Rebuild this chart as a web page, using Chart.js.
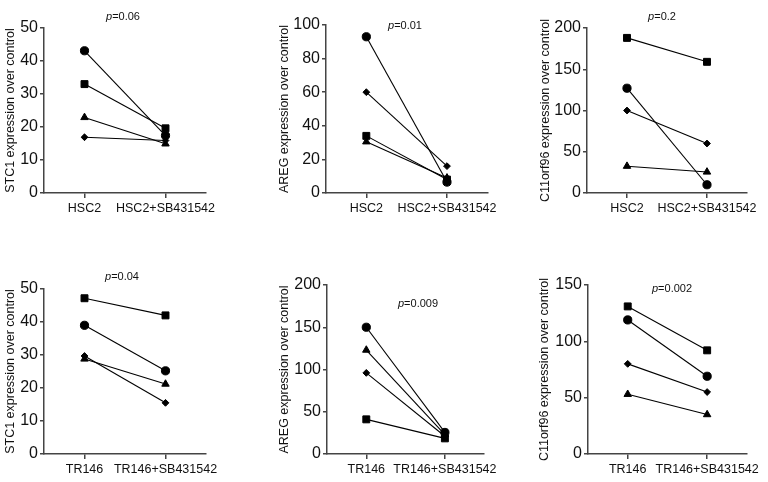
<!DOCTYPE html>
<html>
<head>
<meta charset="utf-8">
<script src="https://cdn.jsdelivr.net/npm/chart.js@4.4.1/dist/chart.umd.min.js"></script>
<style>
  html, body { margin: 0; padding: 0; background: #fff; }
  #wrap { position: relative; width: 768px; height: 482px; overflow: hidden; }
  #wrap canvas { position: absolute; }
</style>
</head>
<body>
<div id="wrap"></div>
<script>
// categories
var hscLabels = ['HSC2', 'HSC2+SB431542'];
var trLabels = ['TR146', 'TR146+SB431542'];

// series values, [untreated, treated] for circle / square / triangle / diamond
var stc1Hsc = { circle: [43.1, 17.4], square: [33, 19.6], triangle: [22.9, 14.9], diamond: [16.9, 15.9] };
var aregHsc = { circle: [93, 6.5], square: [34, 8], triangle: [30.5, 9], diamond: [60, 16] };
var c11Hsc  = { circle: [127, 10], square: [188, 159], triangle: [32.5, 25.5], diamond: [100, 60] };
var stc1Tr  = { circle: [39, 25.2], square: [47.2, 42], triangle: [28.8, 21.2], diamond: [29.7, 15.5] };
var aregTr  = { circle: [150, 25.5], square: [41, 18.5], triangle: [123, 23], diamond: [96, 21] };
var c11Tr   = { circle: [119, 69], square: [131, 92], triangle: [53, 35], diamond: [80, 55] };

// axis ranges and titles
var yMax  = [50, 100, 200, 50, 200, 150];
var yStep = [10, 20, 50, 10, 50, 50];
var yTitles = ['STC1 expression over control', 'AREG expression over control', 'C11orf96 expression over control',
               'STC1 expression over control', 'AREG expression over control', 'C11orf96 expression over control'];
var pValues = ['0.06', '0.01', '0.2', '0.04', '0.009', '0.002'];

var panelData = [stc1Hsc, aregHsc, c11Hsc, stc1Tr, aregTr, c11Tr];
var panelCats = [hscLabels, hscLabels, hscLabels, trLabels, trLabels, trLabels];

// layout (page pixels): canvas box, plot area, p label centre
var layout = [
  { cx: 3,   cy: 0,   w: 225, h: 241, l: 44,  t: 28,  r: 206, b: 193, px: 123, py: 17 },
  { cx: 277, cy: 0,   w: 225, h: 241, l: 326, t: 25,  r: 492, b: 193, px: 405, py: 26 },
  { cx: 538, cy: 0,   w: 225, h: 241, l: 587, t: 28,  r: 749, b: 193, px: 662, py: 17 },
  { cx: 3,   cy: 241, w: 225, h: 241, l: 44,  t: 289, r: 206, b: 454, px: 122, py: 277 },
  { cx: 277, cy: 241, w: 225, h: 241, l: 327, t: 285, r: 492, b: 454, px: 418, py: 304 },
  { cx: 537, cy: 241, w: 228, h: 241, l: 588, t: 285, r: 752, b: 454, px: 672, py: 289 }
];

var FONT = "'Liberation Sans', Arial, sans-serif";
var AXIS = '#444';

var markers = [
  { key: 'circle',   style: 'circle',   radius: 4.1 },
  { key: 'square',   style: 'rect',     radius: 4.9 },
  { key: 'triangle', style: 'triangle', radius: 4.3 },
  { key: 'diamond',  style: 'rectRot',  radius: 3.4 }
];

var pLabel = {
  id: 'pLabel',
  afterDraw: function(chart, args, opts) {
    var ctx = chart.ctx;
    ctx.save();
    ctx.fillStyle = '#111';
    ctx.textBaseline = 'middle';
    var f1 = 'italic 11px ' + FONT, f2 = '11px ' + FONT;
    ctx.font = f1;
    var w1 = ctx.measureText('p').width;
    ctx.font = f2;
    var rest = '=' + opts.text;
    var w2 = ctx.measureText(rest).width;
    var x0 = opts.x - (w1 + w2) / 2;
    ctx.font = f1;
    ctx.fillText('p', x0, opts.y);
    ctx.font = f2;
    ctx.fillText(rest, x0 + w1, opts.y);
    ctx.restore();
  }
};

var wrap = document.getElementById('wrap');

panelData.forEach(function(d, i) {
  var L = layout[i];
  var canvas = document.createElement('canvas');
  canvas.width = L.w;
  canvas.height = L.h;
  canvas.style.left = L.cx + 'px';
  canvas.style.top = L.cy + 'px';
  wrap.appendChild(canvas);

  var yWidth = L.l - L.cx;
  var xHeight = L.cy + L.h - L.b;

  var datasets = markers.map(function(m) {
    return {
      data: d[m.key],
      borderColor: '#000',
      borderWidth: 1.1,
      backgroundColor: '#000',
      pointStyle: m.style,
      pointRadius: m.radius,
      pointBorderWidth: 1,
      pointBackgroundColor: '#000',
      pointBorderColor: '#000',
      tension: 0,
      clip: false
    };
  });

  new Chart(canvas.getContext('2d'), {
    type: 'line',
    data: { labels: panelCats[i], datasets: datasets },
    plugins: [pLabel],
    options: {
      responsive: false,
      animation: false,
      events: [],
      layout: {
        padding: { left: 0, top: L.t - L.cy, right: L.cx + L.w - L.r, bottom: 0 }
      },
      plugins: {
        legend: { display: false },
        tooltip: { enabled: false },
        pLabel: { text: pValues[i], x: L.px - L.cx, y: L.py - L.cy }
      },
      scales: {
        x: {
          type: 'category',
          offset: true,
          grid: { offset: false, drawOnChartArea: false, drawTicks: true, tickLength: 5, color: AXIS, lineWidth: 1.5 },
          border: { color: AXIS, width: 1.5 },
          ticks: { color: '#111', padding: 3, maxRotation: 0, autoSkip: false, font: { family: FONT, size: 12.5 } },
          afterFit: function(scale) { scale.height = xHeight; }
        },
        y: {
          min: 0,
          max: yMax[i],
          grid: { drawOnChartArea: false, drawTicks: true, tickLength: 4, color: AXIS, lineWidth: 1.5 },
          border: { color: AXIS, width: 1.5 },
          ticks: { stepSize: yStep[i], color: '#111', padding: 2, font: { family: FONT, size: 16 } },
          title: { display: true, text: yTitles[i], color: '#111', padding: 0, font: { family: FONT, size: 12.5 } },
          afterFit: function(scale) { scale.width = yWidth; }
        }
      }
    }
  });
});
</script>
</body>
</html>
